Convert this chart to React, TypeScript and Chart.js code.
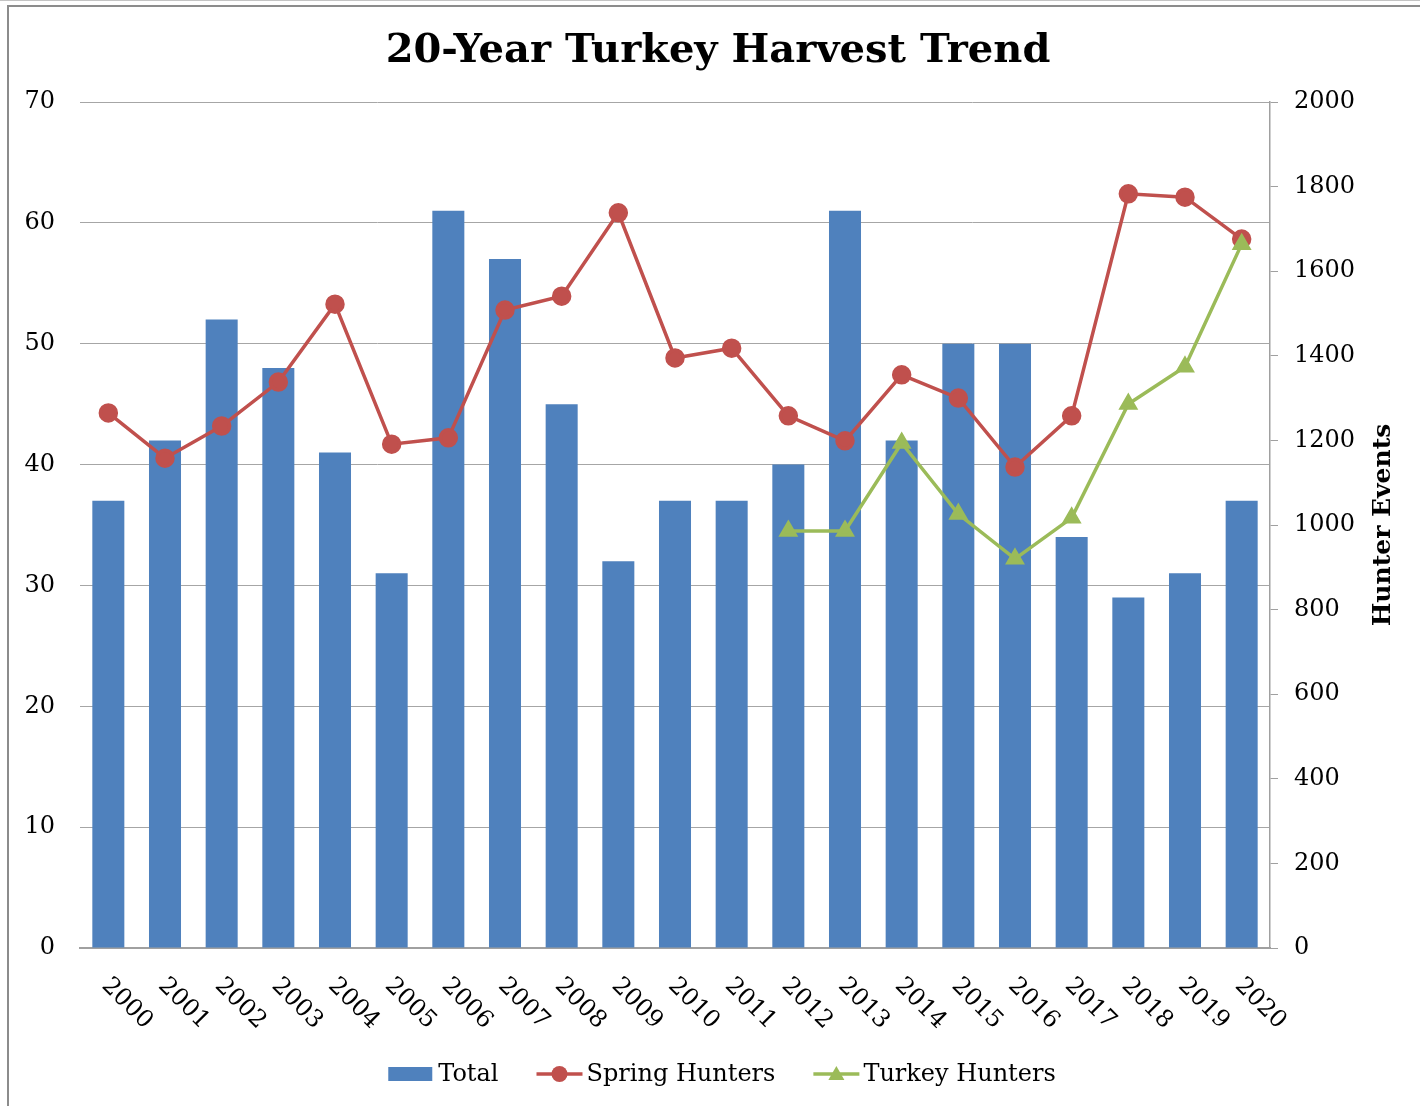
import React, { useEffect, useRef } from "react";
import { Chart, registerables } from "chart.js";

Chart.register(...registerables);

const years = [
  "2000", "2001", "2002", "2003", "2004", "2005", "2006", "2007", "2008", "2009", "2010",
  "2011", "2012", "2013", "2014", "2015", "2016", "2017", "2018", "2019", "2020",
];
const totalHarvest = [37, 42, 52, 48, 41, 31, 61, 57, 45, 32, 37, 37, 40, 61, 42, 50, 50, 34, 29, 31, 37];
const springHunters = [
  1265, 1158, 1234, 1338, 1522, 1191, 1206, 1508, 1541, 1738, 1395,
  1418, 1258, 1199, 1355, 1300, 1137, 1258, 1783, 1775, 1676,
];
const turkeyHunters = [
  null, null, null, null, null, null, null, null, null, null, null,
  null, 986, 986, 1194, 1026, 920, 1017, 1286, 1374, 1664,
];
const leftTicks = { min: 0, max: 70, step: 10 };
const rightTicks = { min: 0, max: 2000, step: 200 };

const TITLE = "20-Year Turkey Harvest Trend";
const RIGHT_TITLE = "Hunter Events";
const SERIES_NAMES = ["Total", "Spring Hunters", "Turkey Hunters"];

const BLUE = "#4F81BD";
const RED = "#C0504D";
const GREEN = "#9BBB59";
const FONT = "'DejaVu Serif', 'Liberation Serif', serif";

const W = 1420;
const H = 1106;

const customDraw = {
  id: "customDraw",
  afterDraw(chart: any) {
    const ctx = chart.ctx;
    const xs = chart.scales.x;
    const area = chart.chartArea;
    ctx.save();

    // title
    ctx.font = `bold 40px ${FONT}`;
    ctx.fillStyle = "#000";
    ctx.textAlign = "center";
    ctx.textBaseline = "alphabetic";
    ctx.fillText(TITLE, 718, 62);

    // rotated x labels (clockwise 45deg)
    ctx.font = `24px ${FONT}`;
    ctx.fillStyle = "#000";
    ctx.textAlign = "left";
    ctx.textBaseline = "middle";
    years.forEach((y, i) => {
      const x = xs.getPixelForTick(i);
      ctx.save();
      ctx.translate(x - 3, area.bottom + 34);
      ctx.rotate(Math.PI / 4);
      ctx.fillText(y, 0, 0);
      ctx.restore();
    });

    // right axis title
    ctx.save();
    ctx.font = `bold 25px ${FONT}`;
    ctx.textAlign = "center";
    ctx.textBaseline = "middle";
    ctx.translate(1383, (area.top + area.bottom) / 2);
    ctx.rotate(-Math.PI / 2);
    ctx.fillText(RIGHT_TITLE, 0, 0);
    ctx.restore();

    // legend
    ctx.font = `24px ${FONT}`;
    ctx.textAlign = "left";
    ctx.textBaseline = "middle";
    const sym = 46;
    const gapText = 4;
    const gapItem = 38;
    const widths = SERIES_NAMES.map((n) => sym + gapText + ctx.measureText(n).width);
    const total = widths.reduce((a, b) => a + b, 0) + gapItem * (widths.length - 1);
    let lx = 722 - total / 2;
    const ly = 1074;
    SERIES_NAMES.forEach((name, i) => {
      if (i === 0) {
        ctx.fillStyle = BLUE;
        ctx.fillRect(lx, ly - 7, sym - 2, 14);
      } else {
        const col = i === 1 ? RED : GREEN;
        ctx.strokeStyle = col;
        ctx.fillStyle = col;
        ctx.lineWidth = 3.5;
        ctx.beginPath();
        ctx.moveTo(lx, ly);
        ctx.lineTo(lx + sym, ly);
        ctx.stroke();
        const cx = lx + sym / 2;
        ctx.beginPath();
        if (i === 1) {
          ctx.arc(cx, ly, 8, 0, Math.PI * 2);
        } else {
          ctx.moveTo(cx, ly - 8);
          ctx.lineTo(cx + 8, ly + 6);
          ctx.lineTo(cx - 8, ly + 6);
          ctx.closePath();
        }
        ctx.fill();
      }
      ctx.fillStyle = "#000";
      ctx.fillText(name, lx + sym + gapText, ly + 1);
      lx += widths[i] + gapItem;
    });
    ctx.restore();
  },
};

export default function App() {
  const ref = useRef<HTMLCanvasElement | null>(null);

  useEffect(() => {
    if (!ref.current) return;
    const chart = new Chart(ref.current, {
      type: "bar",
      data: {
        labels: years,
        datasets: [
          {
            type: "line",
            label: SERIES_NAMES[2],
            data: turkeyHunters as any,
            yAxisID: "y1",
            borderColor: GREEN,
            backgroundColor: GREEN,
            borderWidth: 3.5,
            pointStyle: "triangle",
            pointRadius: 8,
            pointBackgroundColor: GREEN,
            pointBorderColor: GREEN,
            tension: 0,
            order: 0,
          } as any,
          {
            type: "line",
            label: SERIES_NAMES[1],
            data: springHunters,
            yAxisID: "y1",
            borderColor: RED,
            backgroundColor: RED,
            borderWidth: 3.5,
            pointStyle: "circle",
            pointRadius: 8,
            pointBackgroundColor: RED,
            pointBorderColor: RED,
            tension: 0,
            order: 1,
          } as any,
          {
            type: "bar",
            label: SERIES_NAMES[0],
            data: totalHarvest,
            yAxisID: "y",
            backgroundColor: BLUE,
            borderWidth: 0,
            categoryPercentage: 1,
            barPercentage: 0.565,
            order: 2,
          } as any,
        ],
      },
      options: {
        responsive: false,
        animation: false,
        layout: { padding: { top: 102, left: 0, right: 0, bottom: 0 } },
        plugins: {
          legend: { display: false },
          tooltip: { enabled: false },
          title: { display: false },
        },
        scales: {
          x: {
            type: "category",
            grid: { display: false },
            border: { display: true, color: "#a0a0a0", width: 2 },
            ticks: { display: false },
            afterFit: (s: any) => {
              s.height = H - 948;
            },
          },
          y: {
            position: "left",
            min: leftTicks.min,
            max: leftTicks.max,
            ticks: {
              stepSize: leftTicks.step,
              color: "#000",
              font: { family: FONT, size: 24 },
              padding: 25,
            },
            grid: { color: "#a6a6a6", lineWidth: 1, drawTicks: false },
            border: { display: false },
            afterFit: (s: any) => {
              s.width = 80;
            },
          },
          y1: {
            position: "right",
            min: rightTicks.min,
            max: rightTicks.max,
            ticks: {
              stepSize: rightTicks.step,
              color: "#000",
              font: { family: FONT, size: 24 },
              padding: 16,
              callback: (v: any) => String(v),
            },
            grid: { drawOnChartArea: false, drawTicks: true, tickLength: 8, color: "#a0a0a0" },
            border: { display: true, color: "#a0a0a0", width: 1.5 },
            afterFit: (s: any) => {
              s.width = 150;
            },
          },
        },
      } as any,
      plugins: [customDraw],
    });
    return () => chart.destroy();
  }, []);

  return (
    <div style={{ position: "absolute", left: 0, top: 0, width: W, height: H, background: "#fff" }}>
      <div style={{ position: "absolute", left: 0, top: 0, width: W, height: 1, background: "#c4c4c4" }} />
      <div
        style={{
          position: "absolute",
          left: 7,
          top: 5,
          width: W - 7,
          height: H - 5,
          boxSizing: "border-box",
          borderTop: "2px solid #8c8c8c",
          borderLeft: "2px solid #8c8c8c",
        }}
      />
      <canvas ref={ref} width={W} height={H} style={{ position: "absolute", left: 0, top: 0, width: W, height: H }} />
    </div>
  );
}
